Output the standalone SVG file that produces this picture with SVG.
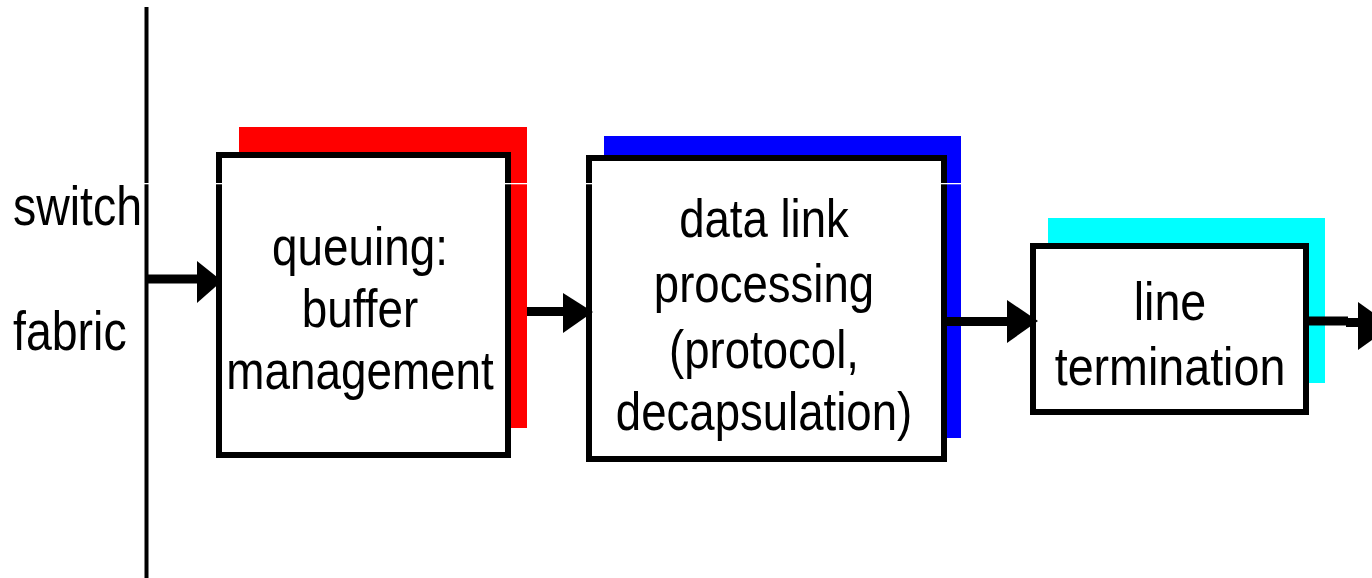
<svg xmlns="http://www.w3.org/2000/svg" width="1372" height="578" viewBox="0 0 1372 578">
<style>
.lbl{font-family:"Liberation Sans",Arial,sans-serif;font-size:53px;fill:#000;text-anchor:middle}
.side{font-family:"Liberation Sans",Arial,sans-serif;font-size:56px;fill:#000;text-anchor:start}
.box{fill:#fff;stroke:#000;stroke-width:6}
.ln{stroke:#000;stroke-width:9;fill:none}
</style>
<rect width="1372" height="578" fill="#fff"/>
<g id="fabric">
<rect x="144.5" y="7" width="4" height="571" fill="#000"/>
<g transform="translate(13,0) scale(0.83,1)"><text class="side" x="0" y="225">switch</text><text class="side" x="0" y="350">fabric</text></g>
</g>
<g id="queuing">
<rect x="239" y="127" width="288" height="301" fill="#ff0000"/>
<rect class="box" x="219" y="155" width="289" height="300"/>
<g transform="translate(360,0) scale(0.865,1)">
<text class="lbl" x="0" y="265">queuing:</text>
<text class="lbl" x="0" y="327">buffer</text>
<text class="lbl" x="0" y="389">management</text>
</g>
</g>
<g id="datalink">
<rect x="604" y="136" width="357" height="302" fill="#0000ff"/>
<rect class="box" x="589" y="158" width="355" height="301"/>
<g transform="translate(764,0) scale(0.86,1)">
<text class="lbl" x="0" y="237">data link</text>
<text class="lbl" x="0" y="302">processing</text>
<text class="lbl" x="0" y="368">(protocol,</text>
<text class="lbl" x="0" y="430">decapsulation)</text>
</g>
</g>
<g id="lineterm">
<rect x="1048" y="218" width="277" height="165" fill="#00ffff"/>
<rect class="box" x="1033" y="246" width="273" height="166"/>
<g transform="translate(1170,0) scale(0.88,1)">
<text class="lbl" x="0" y="320">line</text>
<text class="lbl" x="0" y="385">termination</text>
</g>
</g>
<g id="connectors">
<line class="ln" x1="148" y1="279" x2="200" y2="279"/>
<polygon points="197,261 222,281 197,303" fill="#000"/>
<line class="ln" x1="527" y1="311.5" x2="566" y2="311.5"/>
<polygon points="563,293 593,312 563,333" fill="#000"/>
<line class="ln" x1="947" y1="321.5" x2="1010" y2="321.5"/>
<polygon points="1007,300 1038,321 1007,343" fill="#000"/>
<line class="ln" x1="1309" y1="321" x2="1348" y2="321"/>
<line class="ln" x1="1346" y1="322.5" x2="1360" y2="322.5"/>
<polygon points="1358,302 1392,326 1358,350" fill="#000"/>
</g>
<rect x="0" y="183" width="1372" height="1.3" fill="#fff"/>
</svg>
